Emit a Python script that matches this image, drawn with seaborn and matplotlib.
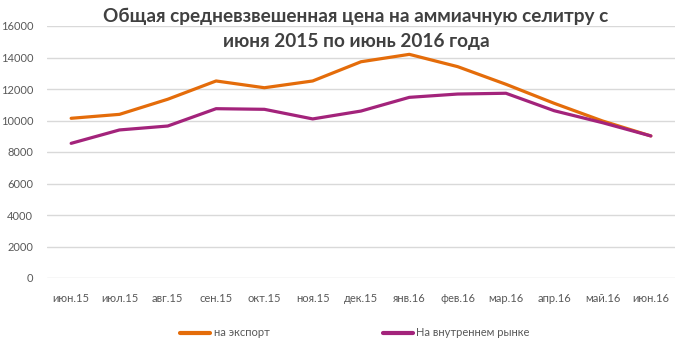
import matplotlib
matplotlib.use("Agg")
import matplotlib.pyplot as plt
import seaborn as sns
import pandas as pd

months = ["июн.15", "июл.15", "авг.15", "сен.15", "окт.15", "ноя.15", "дек.15",
          "янв.16", "фев.16", "мар.16", "апр.16", "май.16", "июн.16"]
export_vals = [10140, 10390, 11350, 12510, 12080, 12510, 13730,
               14200, 13420, 12300, 11090, 9970, 9020]
domestic_vals = [8550, 9400, 9650, 10750, 10710, 10100, 10600,
                 11470, 11680, 11730, 10620, 9860, 9020]
series_names = ["на экспорт", "На внутреннем рынке"]
title_lines = ["Общая средневзвешенная цена на аммиачную селитру с",
               "июня 2015 по июнь 2016 года"]
yticks = [0, 2000, 4000, 6000, 8000, 10000, 12000, 14000, 16000]

sns.set_theme(style="white")
plt.rcParams['font.family'] = ['Lato', 'DejaVu Sans']

df = pd.DataFrame({
    "month": months * 2,
    "idx": list(range(len(months))) * 2,
    "value": export_vals + domestic_vals,
    "series": [series_names[0]] * len(months) + [series_names[1]] * len(months),
})

W, H = 675, 344
fig = plt.figure(figsize=(W / 100, H / 100), dpi=100)
ax = fig.add_axes([47 / W, 1 - 278 / H, 1 - 47 / W, (278 - 26) / H])

palette = {series_names[0]: "#E46C0A", series_names[1]: "#A3237B"}
sns.lineplot(data=df, x="idx", y="value", hue="series", palette=palette,
             linewidth=2.3, ax=ax, legend=True, sort=False)

ax.set_xlim(-0.5, len(months) - 0.5)
ax.set_ylim(0, 16000)
ax.set_yticks(yticks)
ax.set_yticklabels([str(v) for v in yticks])
ax.set_xticks(range(len(months)))
ax.set_xticklabels(months)
ax.set_xlabel("")
ax.set_ylabel("")
ax.grid(axis="y", color="#D9D9D9", linewidth=1)
ax.set_axisbelow(True)
for s in ax.spines.values():
    s.set_visible(False)
ax.tick_params(axis="y", length=0, pad=10, labelsize=8, labelcolor="#595959")
ax.tick_params(axis="x", length=0, pad=11, labelsize=8, labelcolor="#595959")

# title: two lines, baselines at ~22px and ~47px
fig.text(356 / W, 1 - 22 / H, title_lines[0], ha="center", va="baseline",
         fontsize=13.7, fontweight="bold", color="#404040")
fig.text(356 / W, 1 - 47 / H, title_lines[1], ha="center", va="baseline",
         fontsize=13.7, fontweight="bold", color="#404040")

handles, labels = ax.get_legend_handles_labels()
for h in handles:
    h.set_linewidth(3)
ax.legend(handles, labels, loc="center",
          bbox_to_anchor=((355 - 47) / 628, (278 - 333) / 252),
          ncol=2, frameon=False, fontsize=8, handlelength=2.7, handletextpad=0.3,
          columnspacing=10.2, labelcolor="#595959")

fig.savefig("out.png", dpi=100)
